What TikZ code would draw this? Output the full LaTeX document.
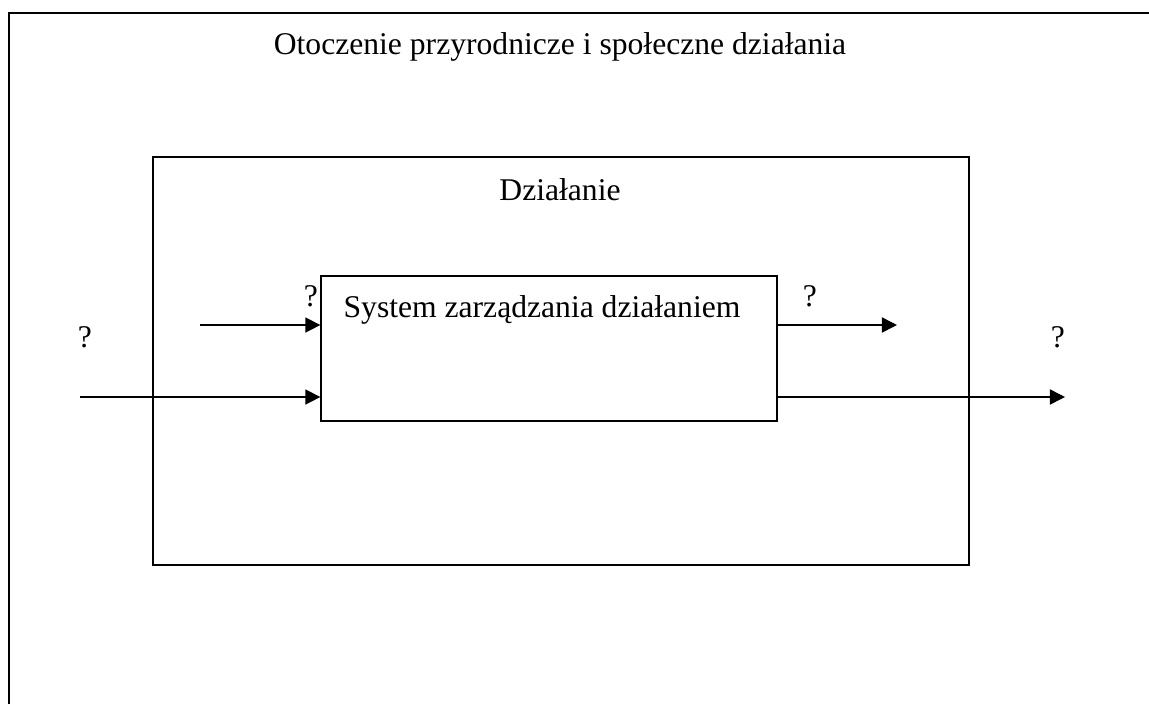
\documentclass[tikz,border=0pt]{standalone}
\usepackage{fontspec}
\setmainfont{Liberation Serif}
\usetikzlibrary{arrows.meta, positioning}

\begin{document}
\begin{tikzpicture}[
  x=0.014cm, y=-0.014cm,
  frame/.style={line width=0.8pt},
  box/.style={rectangle, draw, line width=0.6pt, inner sep=0pt},
  lbl/.style={font=\fontsize{12.6}{15}\selectfont},
  arr/.style={-{Triangle[length=6pt, width=6pt]}, line width=0.6pt},
]
\useasboundingbox (0,0) rectangle (1149,704);
% outer environment (cut at right and bottom)
\draw[frame] (9,704) -- (9,12.5) -- (1149,12.5);
\node[lbl] (env) at (560,47) {Otoczenie przyrodnicze i społeczne działania};
% activity
\node[box, minimum width=11.424cm, minimum height=5.712cm] (act) at (561,361) {};
\node[lbl] (actlbl) at (560,190) {Działanie};
% management system
\node[box, minimum width=6.384cm, minimum height=2.03cm] (sys) at (549,348.5) {};
\node[lbl] (syslbl) at (542,310) {System zarządzania działaniem};
% inputs
\coordinate (in1) at (200,325);
\coordinate (in2) at (80,397);
\draw[arr] (in1) -- (sys.west |- in1);
\draw[arr] (in2) -- (sys.west |- in2);
\node[lbl] (q1) at (311,296) {?};
\node[lbl] (q2) at (85,337) {?};
% outputs
\coordinate (out1) at (897,325);
\coordinate (out2) at (1065,397);
\draw[arr] (sys.east |- out1) -- (out1);
\draw[arr] (sys.east |- out2) -- (out2);
\node[lbl] (q3) at (810,296) {?};
\node[lbl] (q4) at (1058,337) {?};
\end{tikzpicture}
\end{document}
